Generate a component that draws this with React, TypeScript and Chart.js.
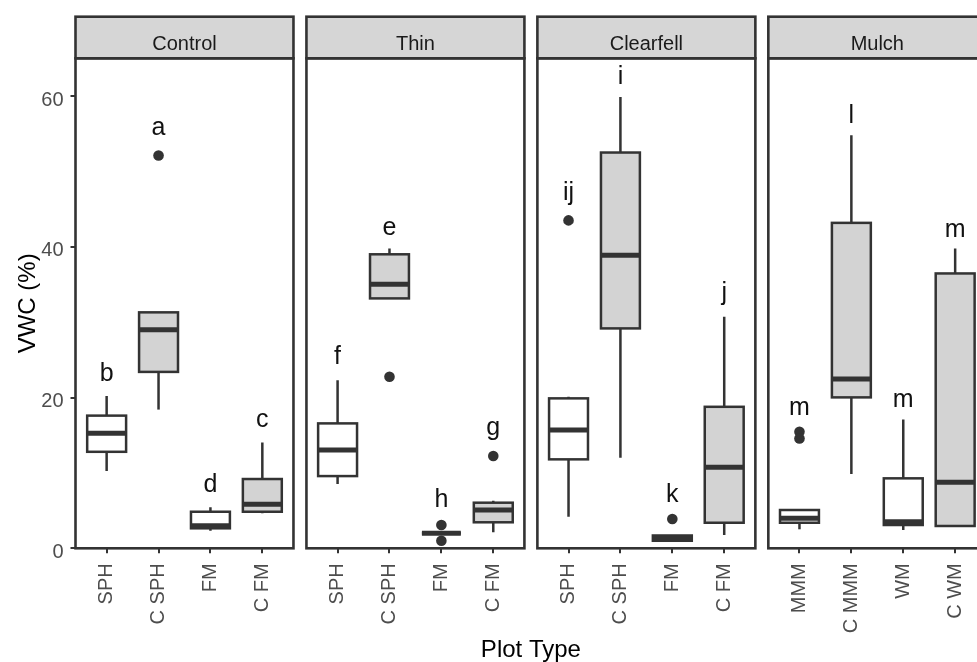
import React, { useEffect, useRef } from "react";
import { Chart, registerables } from "chart.js";

Chart.register(...registerables);

// ---------- data ----------
const panels = ["Control", "Thin", "Clearfell", "Mulch"];
const categories = [
  ["SPH", "C SPH", "FM", "C FM"],
  ["SPH", "C SPH", "FM", "C FM"],
  ["SPH", "C SPH", "FM", "C FM"],
  ["MMM", "C MMM", "WM", "C WM"],
];
// boxplot statistics per panel (category order)
const whiskerLow = [
  [10.25, 18.4, 2.33, 4.64],
  [8.52, 33.15, 2.0, 2.12],
  [4.19, 12.0, 1.0, 1.76],
  [2.52, 9.85, 2.43, 2.9],
];
const q1 = [
  [12.8, 23.4, 2.65, 4.85],
  [9.58, 33.15, 2.0, 3.45],
  [11.8, 29.17, 1.0, 3.39],
  [3.39, 20.02, 3.09, 2.96],
];
const median = [
  [15.25, 29.0, 3.0, 5.83],
  [13.03, 35.04, 2.0, 5.08],
  [15.68, 38.88, 1.3, 10.74],
  [3.98, 22.45, 3.53, 8.75],
];
const q3 = [
  [17.6, 31.3, 4.85, 9.19],
  [16.57, 39.0, 2.0, 6.05],
  [19.89, 52.5, 1.7, 18.77],
  [5.08, 43.17, 9.28, 36.46],
];
const whiskerHigh = [
  [20.2, 31.3, 5.45, 14.05],
  [22.3, 39.77, 2.0, 6.31],
  [20.1, 59.87, 1.7, 30.7],
  [5.08, 54.8, 17.1, 39.77],
];
const outliers: number[][][] = [
  [[], [52.1], [], []],
  [[], [22.75], [3.09, 1.0], [12.24]],
  [[43.5], [], [3.88], []],
  [[15.46, 14.58], [], [], []],
];
const letters = [
  ["b", "a", "d", "c"],
  ["f", "e", "h", "g"],
  ["ij", "i", "k", "j"],
  ["m", "l", "m", "m"],
];
const letterY = [
  [22.2, 54.8, 7.5, 16.1],
  [24.5, 41.5, 5.5, 15.0],
  [46.2, 61.6, 6.2, 32.9],
  [17.7, 56.4, 18.7, 41.3],
];
const yTicks = [0, 20, 40, 60];
const xTitle = "Plot Type";
const yTitle = "VWC (%)";

// ---------- layout constants ----------
const STEP = 4.45; // panel step in category units
const X_MIN = 0.4;
const X_MAX = 3 * STEP + 4.6;
const Y_MAX = 65;
const BOX_W = 0.75;
const FONT = "'Liberation Sans', Arial, Helvetica, sans-serif";
const DARK = "#333333";

const xPos = (p: number, c: number) => p * STEP + c + 1;
const tickValues: number[] = [];
const tickLabels: string[] = [];
panels.forEach((_, p) =>
  categories[p].forEach((cat, c) => {
    tickValues.push(xPos(p, c));
    tickLabels.push(cat);
  })
);
const outlierPoints: { x: number; y: number }[] = [];
outliers.forEach((row, p) =>
  row.forEach((vals, c) => vals.forEach((v) => outlierPoints.push({ x: xPos(p, c), y: v })))
);

const facetPlugin = {
  id: "facetBoxes",
  beforeDatasetsDraw(chart: any) {
    const { ctx, scales } = chart;
    const x = scales.x;
    const y = scales.y;
    ctx.save();
    panels.forEach((_, p) => {
      categories[p].forEach((cat, c) => {
        const xv = xPos(p, c);
        const xc = x.getPixelForValue(xv);
        const xl = x.getPixelForValue(xv - BOX_W / 2);
        const xr = x.getPixelForValue(xv + BOX_W / 2);
        const yWl = y.getPixelForValue(whiskerLow[p][c]);
        const yQ1 = y.getPixelForValue(q1[p][c]);
        const yMed = y.getPixelForValue(median[p][c]);
        const yQ3 = y.getPixelForValue(q3[p][c]);
        const yWh = y.getPixelForValue(whiskerHigh[p][c]);
        ctx.strokeStyle = DARK;
        ctx.lineWidth = 2.5;
        ctx.beginPath();
        ctx.moveTo(xc, yWh);
        ctx.lineTo(xc, yQ3);
        ctx.moveTo(xc, yQ1);
        ctx.lineTo(xc, yWl);
        ctx.stroke();
        ctx.fillStyle = cat.startsWith("C ") ? "#d3d3d3" : "#ffffff";
        ctx.fillRect(xl, yQ3, xr - xl, yQ1 - yQ3);
        ctx.strokeRect(xl, yQ3, xr - xl, yQ1 - yQ3);
        ctx.lineWidth = 5;
        ctx.beginPath();
        ctx.moveTo(xl, yMed);
        ctx.lineTo(xr, yMed);
        ctx.stroke();
      });
    });
    ctx.restore();
  },
  afterDraw(chart: any) {
    const { ctx, scales, chartArea } = chart;
    const x = scales.x;
    const y = scales.y;
    ctx.save();
    // letters
    ctx.fillStyle = "#111111";
    ctx.font = `25px ${FONT}`;
    ctx.textAlign = "center";
    ctx.textBaseline = "alphabetic";
    panels.forEach((_, p) => {
      letters[p].forEach((l, c) => {
        ctx.fillText(l, x.getPixelForValue(xPos(p, c)), y.getPixelForValue(letterY[p][c]));
      });
    });
    // panels and strips
    const top = chartArea.top;
    const bottom = chartArea.bottom;
    const stripTop = top - 41.6;
    panels.forEach((name, p) => {
      const left = x.getPixelForValue(p * STEP + X_MIN);
      const right = x.getPixelForValue(p * STEP + 4.6);
      ctx.fillStyle = "#d6d6d6";
      ctx.fillRect(left, stripTop, right - left, top - stripTop);
      ctx.strokeStyle = DARK;
      ctx.lineWidth = 2.6;
      ctx.strokeRect(left, stripTop, right - left, top - stripTop);
      ctx.strokeRect(left, top, right - left, bottom - top);
      ctx.fillStyle = "#1a1a1a";
      ctx.font = `20px ${FONT}`;
      ctx.textAlign = "center";
      ctx.textBaseline = "alphabetic";
      ctx.fillText(name, (left + right) / 2, top - 8.3);
    });
    ctx.restore();
  },
};

export default function App() {
  const canvasRef = useRef<HTMLCanvasElement | null>(null);

  useEffect(() => {
    if (!canvasRef.current) return;
    Chart.defaults.font.family = FONT;
    const chart = new Chart(canvasRef.current, {
      type: "scatter",
      data: {
        datasets: [
          {
            data: outlierPoints,
            pointRadius: 5.3,
            pointHoverRadius: 5.3,
            pointBackgroundColor: DARK,
            pointBorderWidth: 0,
          },
        ],
      },
      options: {
        animation: false,
        responsive: false,
        events: [],
        layout: { padding: { top: 58.3, right: 13.7, left: 0, bottom: 0 } },
        plugins: { legend: { display: false }, tooltip: { enabled: false } },
        scales: {
          x: {
            type: "linear",
            min: X_MIN,
            max: X_MAX,
            afterBuildTicks: (s: any) => {
              s.ticks = tickValues.map((v) => ({ value: v }));
            },
            afterFit: (s: any) => {
              s.height = 116.7;
            },
            ticks: {
              autoSkip: false,
              minRotation: 90,
              maxRotation: 90,
              padding: 10,
              color: "#4d4d4d",
              font: { size: 20, family: FONT },
              callback: (_v: any, i: number) => tickLabels[i],
            },
            grid: {
              display: true,
              drawOnChartArea: false,
              drawTicks: true,
              tickLength: 5,
              color: DARK,
              lineWidth: 2,
            },
            border: { display: false },
            title: {
              display: true,
              text: xTitle,
              color: "#000",
              font: { size: 24, family: FONT },
              padding: { top: 0, bottom: 0 },
            },
          },
          y: {
            type: "linear",
            min: 0,
            max: Y_MAX,
            afterBuildTicks: (s: any) => {
              s.ticks = yTicks.map((v) => ({ value: v }));
            },
            afterFit: (s: any) => {
              s.width = 75.5;
            },
            ticks: {
              color: "#4d4d4d",
              font: { size: 20, family: FONT },
              padding: 7,
              labelOffset: 4,
            },
            grid: {
              display: true,
              drawOnChartArea: false,
              drawTicks: true,
              tickLength: 5,
              color: DARK,
              lineWidth: 2,
            },
            border: { display: false },
            title: {
              display: true,
              text: yTitle,
              color: "#000",
              font: { size: 24, family: FONT },
              padding: { top: 14, bottom: 0 },
            },
          },
        },
      },
      plugins: [facetPlugin],
    } as any);
    return () => chart.destroy();
  }, []);

  return (
    <div
      style={{
        position: "fixed",
        left: 0,
        top: 0,
        width: 977,
        height: 662,
        overflow: "hidden",
        background: "#fff",
      }}
    >
      <canvas ref={canvasRef} width={1000} height={665} style={{ display: "block" }} />
    </div>
  );
}
